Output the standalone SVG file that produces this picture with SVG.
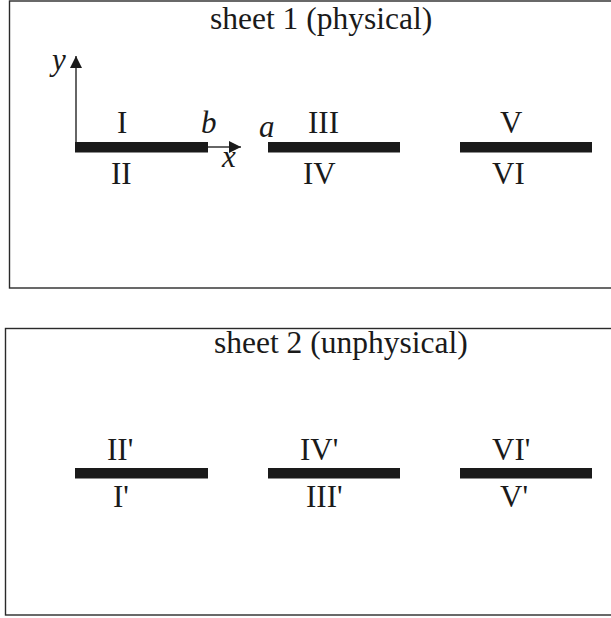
<svg xmlns="http://www.w3.org/2000/svg" width="611" height="618" viewBox="0 0 611 618">
<style>
.frame{fill:none;stroke:#2a2a2a;stroke-width:1.4}
.bar{fill:#1a1a1a}
.axis{stroke:#333;stroke-width:1.5;fill:none}
text{font-family:"Liberation Serif","Times New Roman",serif;font-size:31px;fill:#1a1a1a}
.it{font-style:italic}
.title{font-size:31.5px}
</style>
<defs>
<marker id="ah" markerWidth="12" markerHeight="12" refX="12" refY="6" orient="auto" markerUnits="userSpaceOnUse" viewBox="0 0 12 12">
<path d="M0,0 L12,6 L0,12 Z" fill="#1a1a1a"/>
</marker>
</defs>
<rect width="611" height="618" fill="#fff"/>
<g id="sheet1">
<rect class="frame" x="9.5" y="1" width="610" height="287"/>
<text class="title" x="210" y="29">sheet 1 (physical)</text>
</g>
<g id="sheet2">
<rect class="frame" x="5.5" y="328.5" width="614" height="286.5"/>
<text class="title" x="214" y="353">sheet 2 (unphysical)</text>
</g>
<g id="connectors">
<line class="axis" x1="76" y1="152" x2="76" y2="56" marker-end="url(#ah)"/>
<line class="axis" x1="206" y1="147" x2="241" y2="147" marker-end="url(#ah)"/>
</g>
<g id="cut1"><rect class="bar" x="75" y="142" width="133" height="10.5"/><text x="117" y="133">I</text><text x="111" y="184">II</text></g>
<g id="cut2"><rect class="bar" x="268" y="142" width="132" height="10.5"/><text x="308" y="133">III</text><text x="303" y="184">IV</text></g>
<g id="cut3"><rect class="bar" x="460" y="142" width="132" height="10.5"/><text x="500" y="133">V</text><text x="492" y="184">VI</text></g>
<g id="labels1">
<text class="it" x="201" y="133">b</text>
<text class="it" x="259" y="137">a</text>
<text class="it" x="222" y="167">x</text>
<text class="it" x="52" y="70">y</text>
</g>
<g id="cut1p"><rect class="bar" x="75" y="468" width="133" height="10.5"/><text x="107" y="460">II'</text><text x="113" y="507">I'</text></g>
<g id="cut2p"><rect class="bar" x="268" y="468" width="132" height="10.5"/><text x="300" y="460">IV'</text><text x="306" y="507">III'</text></g>
<g id="cut3p"><rect class="bar" x="460" y="468" width="132" height="10.5"/><text x="492" y="460">VI'</text><text x="500" y="507">V'</text></g>
</svg>
